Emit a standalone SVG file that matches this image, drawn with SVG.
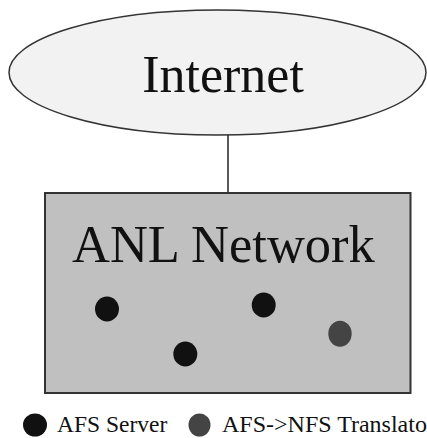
<svg xmlns="http://www.w3.org/2000/svg" width="427" height="438" viewBox="0 0 427 438">
<style>
.lbl{font-family:"Liberation Serif","Times New Roman",serif;fill:#111}
.srv{fill:#111}
.trn{fill:#444}
</style>
<rect x="0" y="0" width="427" height="438" fill="#fff"/>
<g id="connectors">
<line x1="228" y1="135" x2="228" y2="193" stroke="#222" stroke-width="1.5"/>
</g>
<g id="internet">
<ellipse cx="217.5" cy="72.5" rx="208.5" ry="62.5" fill="#f2f2f2" stroke="#333" stroke-width="1.5"/>
<text class="lbl" x="223" y="92" font-size="52" text-anchor="middle">Internet</text>
</g>
<g id="anl-network">
<rect x="45" y="193" width="365.5" height="200" fill="#c0c0c0" stroke="#333" stroke-width="2"/>
<text class="lbl" x="72" y="261.5" font-size="52.5">ANL Network</text>
</g>
<g id="server-1"><ellipse class="srv" cx="107" cy="309" rx="12" ry="12.5"/></g>
<g id="server-2"><ellipse class="srv" cx="185.3" cy="354" rx="12" ry="12.5"/></g>
<g id="server-3"><ellipse class="srv" cx="263.7" cy="305" rx="12" ry="12.5"/></g>
<g id="translator-1"><ellipse class="trn" cx="340" cy="333.7" rx="11.7" ry="13"/></g>
<g id="legend">
<ellipse class="srv" cx="35" cy="425" rx="12" ry="11.5"/>
<text class="lbl" x="57" y="432" font-size="23.5">AFS Server</text>
<ellipse class="trn" cx="199.5" cy="425" rx="11" ry="11.5"/>
<text class="lbl" x="222" y="432" font-size="24">AFS-&gt;NFS Translator</text>
</g>
</svg>
